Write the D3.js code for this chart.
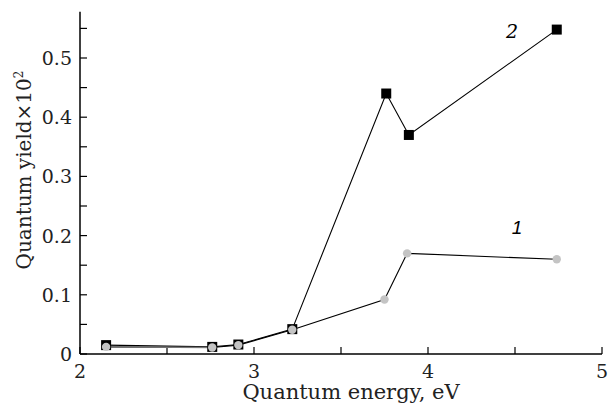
<!DOCTYPE html>
<html><head><meta charset="utf-8">
<script src="https://cdn.jsdelivr.net/npm/d3@7"></script>
<style>body{margin:0;background:#fff}svg{display:block}</style>
</head><body>
<svg id="c" width="609" height="405"></svg>
<script>
const energy1 = [2.15, 2.76, 2.91, 3.22, 3.75, 3.88, 4.74];
const yield1  = [0.012, 0.011, 0.015, 0.041, 0.092, 0.170, 0.160];
const energy2 = [2.15, 2.76, 2.91, 3.22, 3.76, 3.89, 4.74];
const yield2  = [0.015, 0.012, 0.016, 0.042, 0.440, 0.370, 0.548];
const xTicks = [2, 3, 4, 5];
const xMinor = [2.5, 3.5, 4.5];
const yTicks = [0, 0.1, 0.2, 0.3, 0.4, 0.5];
const yMinor = [0.05, 0.15, 0.25, 0.35, 0.45, 0.55];
const seriesLabels = ["1", "2"];

const svg = d3.select("#c");
const x = d3.scaleLinear().domain([2, 5]).range([80, 602]);
const y = d3.scaleLinear().domain([0, 0.5]).range([354, 58]);
const font = "DejaVu Serif";

const g = svg.append("g");
g.append("line").attr("x1", x(2)).attr("x2", x(5)).attr("y1", y(0)).attr("y2", y(0)).attr("stroke", "#000").attr("stroke-width", 1.5);
g.append("line").attr("x1", x(2)).attr("x2", x(2)).attr("y1", y(0)).attr("y2", y(0.578)).attr("stroke", "#000").attr("stroke-width", 1.5);

g.selectAll(".xt").data(xTicks.concat(xMinor)).enter().append("line")
  .attr("x1", d => x(d)).attr("x2", d => x(d)).attr("y1", y(0)).attr("y2", y(0) - 7)
  .attr("stroke", "#000").attr("stroke-width", 1.2);
g.selectAll(".xl").data(xTicks).enter().append("text")
  .attr("x", d => x(d)).attr("y", 378).attr("text-anchor", "middle")
  .style("font-family", font).style("font-size", "19px").attr("fill", "#222").text(d => d);

g.selectAll(".yt").data(yTicks.concat(yMinor)).enter().append("line")
  .attr("x1", x(2)).attr("x2", x(2) + 7).attr("y1", d => y(d)).attr("y2", d => y(d))
  .attr("stroke", "#000").attr("stroke-width", 1.2);
g.selectAll(".yl").data(yTicks).enter().append("text")
  .attr("x", 72).attr("y", d => y(d) + 7).attr("text-anchor", "end")
  .style("font-family", font).style("font-size", "19px").attr("fill", "#222")
  .text(d => d === 0 ? "0" : d3.format(".1f")(d));

g.append("text").attr("x", 351).attr("y", 399).attr("text-anchor", "middle")
  .style("font-family", font).style("font-size", "21px").attr("fill", "#222")
  .text("Quantum energy, eV");
const yt = g.append("text").attr("transform", "translate(31,170) rotate(-90)").attr("text-anchor", "middle")
  .style("font-family", font).style("font-size", "20px").attr("fill", "#222");
yt.append("tspan").text("Quantum yield×10");
yt.append("tspan").attr("dy", -8).style("font-size", "12px").text("2");

const line = d3.line().x(d => x(d[0])).y(d => y(d[1]));
const d1 = energy1.map((e, i) => [e, yield1[i]]);
const d2 = energy2.map((e, i) => [e, yield2[i]]);

g.append("path").attr("d", line(d2)).attr("fill", "none").attr("stroke", "#000").attr("stroke-width", 1.1);
g.append("path").attr("d", line(d1)).attr("fill", "none").attr("stroke", "#000").attr("stroke-width", 1.1);
g.append("path").attr("d", line(d1.slice(0, 2))).attr("fill", "none").attr("stroke", "#777").attr("stroke-width", 1.3);

g.selectAll(".sq").data(d2).enter().append("rect")
  .attr("x", d => x(d[0]) - 5).attr("y", d => y(d[1]) - 5).attr("width", 10).attr("height", 10).attr("fill", "#000");
g.selectAll(".ci").data(d1).enter().append("circle")
  .attr("cx", d => x(d[0])).attr("cy", d => y(d[1])).attr("r", 4.2).attr("fill", "#c4c4c4");

g.append("text").attr("x", 517).attr("y", 234).attr("text-anchor", "middle").style("font-style", "italic")
  .style("font-family", "Liberation Sans").style("font-size", "19px").text(seriesLabels[0]);
g.append("text").attr("x", 512).attr("y", 38).attr("text-anchor", "middle").style("font-style", "italic")
  .style("font-family", font).style("font-size", "19px").text(seriesLabels[1]);
</script>
</body></html>
